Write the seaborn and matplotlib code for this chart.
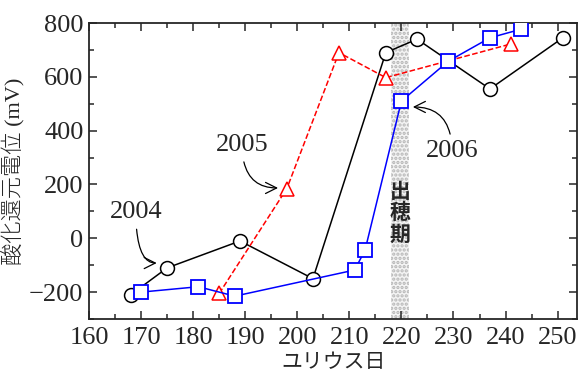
import matplotlib
matplotlib.use("Agg")
import matplotlib.pyplot as plt
import numpy as np
import pandas as pd
import seaborn as sns
from matplotlib.ticker import MultipleLocator

# ---- data ----
day_2004 = [168, 175, 189, 203, 217, 223, 237, 251]
orp_2004 = [-210, -110, -10, -150, 690, 740, 555, 745]

day_2005 = [185, 198, 208, 217, 241]
orp_2005 = [-205, 185, 690, 597, 722]

day_2006 = [170, 181, 188, 211, 213, 220, 229, 237, 243]
orp_2006 = [-200, -180, -215, -118, -45, 510, 658, 745, 777]

heading_start, heading_end = 218.0, 221.5

sns.set_style("ticks")
plt.rcParams.update({"font.family": ["Liberation Serif", "Noto Sans CJK JP"],
                     "font.size": 19,
                     "xtick.labelsize": 19,
                     "ytick.labelsize": 19,
                     "hatch.linewidth": 1.6,
                     })

fig = plt.figure(figsize=(5.78, 3.74), dpi=100)
ax = fig.add_axes([0.154, 0.147, 0.845, 0.7915])

# heading period band
ax.axvspan(heading_start, heading_end, facecolor="#f4f4f4", edgecolor="#b4b4b4",
           hatch="....", linewidth=0, zorder=0)

df04 = pd.DataFrame({"day": day_2004, "orp": orp_2004})
df05 = pd.DataFrame({"day": day_2005, "orp": orp_2005})
df06 = pd.DataFrame({"day": day_2006, "orp": orp_2006})

sns.lineplot(data=df04, x="day", y="orp", ax=ax, color="black", lw=1.1,
             marker="o", markersize=10, markerfacecolor="white",
             markeredgecolor="black", markeredgewidth=1.1, zorder=3)
sns.lineplot(data=df05, x="day", y="orp", ax=ax, color="red", lw=1.1,
             linestyle="--", marker="^", markersize=10, markerfacecolor="white",
             markeredgecolor="red", markeredgewidth=1.1, zorder=3)
sns.lineplot(data=df06, x="day", y="orp", ax=ax, color="blue", lw=1.1,
             marker="s", markersize=10, markerfacecolor="white",
             markeredgecolor="blue", markeredgewidth=1.3, zorder=4)

ax.set_xlim(160, 253.8)
ax.set_ylim(-300, 800)
ax.xaxis.set_major_locator(MultipleLocator(10))
ax.xaxis.set_minor_locator(MultipleLocator(5))
ax.yaxis.set_major_locator(MultipleLocator(200))
ax.yaxis.set_minor_locator(MultipleLocator(100))
ax.tick_params(which="both", direction="in", top=True, right=True, width=1.1)
ax.tick_params(which="major", length=6)
ax.tick_params(which="minor", length=3.5)
ax.tick_params(axis="x", pad=6)
ax.tick_params(axis="y", pad=4)
for s in ax.spines.values():
    s.set_linewidth(1.3)

ax.set_xlabel("ユリウス日", family=["Noto Sans CJK JP"], fontsize=15, labelpad=1)
ax.set_ylabel("酸化還元電位 (mV)", fontsize=16, fontweight="light", labelpad=3)

arrow = dict(arrowstyle="->", color="black", lw=0.9,
             connectionstyle="angle3,angleA=90,angleB=0", shrinkA=2, shrinkB=0,
             mutation_scale=20)
ax.annotate("2004", xy=(173.0, -92), xytext=(169.0, 97), ha="center", va="center",
            arrowprops=arrow)
ax.annotate("2005", xy=(196.3, 187), xytext=(189.4, 347), ha="center", va="center",
            arrowprops=arrow)
ax.annotate("2006", xy=(222.2, 488), xytext=(229.7, 324), ha="center", va="center",
            arrowprops=arrow)

ax.text((heading_start + heading_end) / 2, 94, "出\n穂\n期", ha="center", va="center",
        family=["Noto Sans CJK JP"], fontsize=15, fontweight="bold",
        linespacing=1.05, zorder=5)

fig.savefig("out.png", dpi=100)
